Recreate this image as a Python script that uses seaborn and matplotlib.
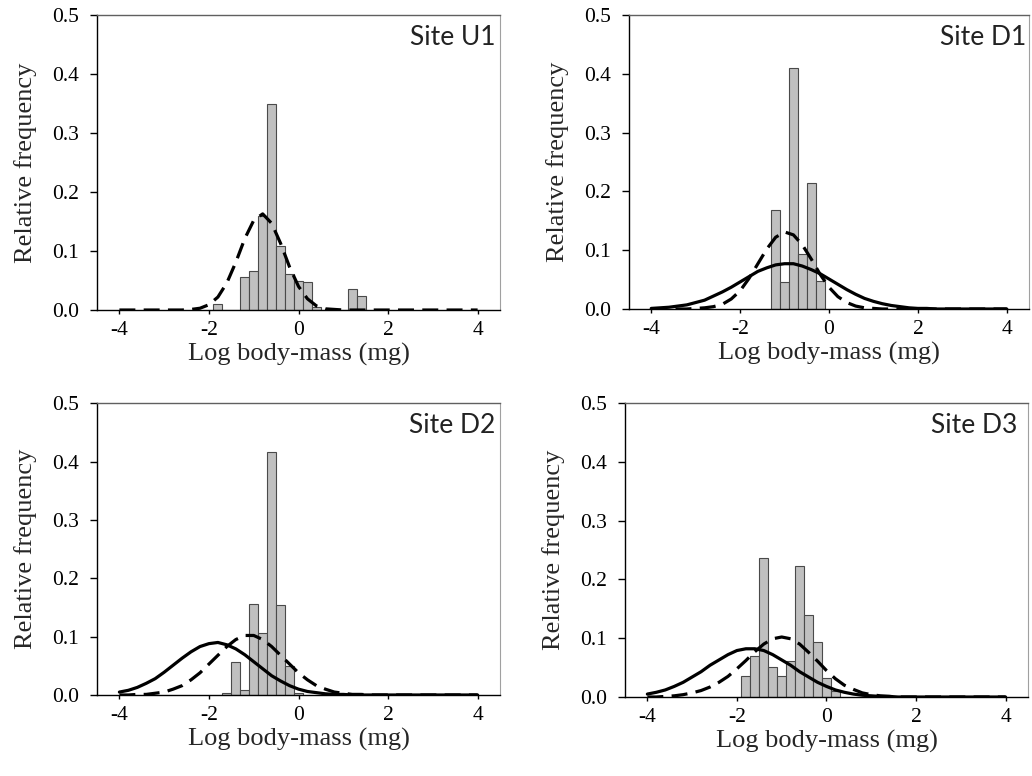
import numpy as np
import pandas as pd
import seaborn as sns
import matplotlib.pyplot as plt

# bin centres (log body-mass, mg) and relative frequencies per site
u1_bins = [-1.8, -1.2, -1.0, -0.8, -0.6, -0.4, -0.2, 0.0, 0.2, 0.4, 1.2, 1.4]
u1_freq = [0.010, 0.056, 0.066, 0.160, 0.350, 0.109, 0.061, 0.049, 0.047, 0.005, 0.036, 0.023]

d1_bins = [-1.2, -1.0, -0.8, -0.6, -0.4, -0.2]
d1_freq = [0.168, 0.046, 0.410, 0.093, 0.214, 0.047]

d2_bins = [-1.6, -1.4, -1.2, -1.0, -0.8, -0.6, -0.4, -0.2, 0.0]
d2_freq = [0.003, 0.056, 0.009, 0.156, 0.106, 0.417, 0.154, 0.049, 0.003]

d3_bins = [-1.8, -1.6, -1.4, -1.2, -1.0, -0.8, -0.6, -0.4, -0.2, 0.0, 0.2]
d3_freq = [0.035, 0.070, 0.237, 0.051, 0.036, 0.062, 0.223, 0.139, 0.093, 0.032, 0.011]

curve_x = [-4.0, -3.8, -3.6, -3.4, -3.2, -3.0, -2.8, -2.6, -2.4, -2.2, -2.0,
           -1.8, -1.6, -1.4, -1.2, -1.0, -0.8, -0.6, -0.4, -0.2, 0.0,
           0.2, 0.4, 0.6, 0.8, 1.0, 1.2, 1.4, 1.6, 1.8, 2.0,
           2.2, 2.4, 2.6, 2.8, 3.0, 3.2, 3.4, 3.6, 3.8, 4.0]

u1_dashed = [0, 0, 0, 0, 0, 0, 0, 0.000, 0.001, 0.003, 0.009,
             0.022, 0.046, 0.081, 0.121, 0.152, 0.163, 0.147, 0.113, 0.073, 0.040,
             0.019, 0.007, 0.002, 0.001, 0, 0, 0, 0, 0, 0,
             0, 0, 0, 0, 0, 0, 0, 0, 0, 0]

d1_dashed = [0, 0, 0, 0.000, 0.000, 0.001, 0.002, 0.004, 0.008, 0.017, 0.031,
             0.052, 0.077, 0.102, 0.122, 0.131, 0.126, 0.109, 0.085, 0.059, 0.037,
             0.021, 0.011, 0.005, 0.002, 0.001, 0, 0, 0, 0, 0,
             0, 0, 0, 0, 0, 0, 0, 0, 0, 0]
d1_solid = [0.001, 0.002, 0.003, 0.005, 0.007, 0.011, 0.015, 0.022, 0.029, 0.037, 0.046,
            0.055, 0.064, 0.070, 0.075, 0.077, 0.077, 0.073, 0.067, 0.060, 0.051,
            0.042, 0.033, 0.025, 0.018, 0.013, 0.009, 0.006, 0.004, 0.002, 0.001,
            0.001, 0, 0, 0, 0, 0, 0, 0, 0, 0]

d2_dashed = [0.000, 0.000, 0.001, 0.001, 0.003, 0.005, 0.010, 0.016, 0.026, 0.038, 0.053,
             0.068, 0.083, 0.095, 0.102, 0.102, 0.095, 0.083, 0.068, 0.053, 0.038,
             0.026, 0.016, 0.010, 0.005, 0.003, 0.001, 0.001, 0, 0, 0,
             0, 0, 0, 0, 0, 0, 0, 0, 0, 0]
d2_solid = [0.005, 0.008, 0.013, 0.020, 0.028, 0.039, 0.051, 0.063, 0.074, 0.083, 0.088,
            0.090, 0.086, 0.079, 0.069, 0.057, 0.045, 0.033, 0.024, 0.016, 0.010,
            0.006, 0.004, 0.002, 0.001, 0.001, 0, 0, 0, 0, 0,
            0, 0, 0, 0, 0, 0, 0, 0, 0, 0]

d3_dashed = [0.000, 0.000, 0.001, 0.002, 0.004, 0.007, 0.011, 0.017, 0.025, 0.035, 0.048,
             0.062, 0.077, 0.090, 0.099, 0.102, 0.099, 0.090, 0.076, 0.061, 0.045,
             0.031, 0.020, 0.013, 0.007, 0.004, 0.002, 0.001, 0, 0, 0,
             0, 0, 0, 0, 0, 0, 0, 0, 0, 0]
d3_solid = [0.005, 0.008, 0.012, 0.018, 0.025, 0.034, 0.043, 0.054, 0.063, 0.072, 0.079,
            0.082, 0.082, 0.079, 0.072, 0.063, 0.054, 0.043, 0.034, 0.025, 0.018,
            0.012, 0.008, 0.005, 0.003, 0.002, 0.001, 0.001, 0, 0, 0,
            0, 0, 0, 0, 0, 0, 0, 0, 0, 0]

x_ticks = [-4, -2, 0, 2, 4]
y_ticks = [0.0, 0.1, 0.2, 0.3, 0.4, 0.5]

panels = [
    ("Site U1", u1_bins, u1_freq, None, u1_dashed, [0.094, 0.6005, 0.3905, 0.380], 0.988),
    ("Site D1", d1_bins, d1_freq, d1_solid, d1_dashed, [0.6095, 0.6018, 0.3876, 0.379], 0.992),
    ("Site D2", d2_bins, d2_freq, d2_solid, d2_dashed, [0.094, 0.1044, 0.3905, 0.376], 0.988),
    ("Site D3", d3_bins, d3_freq, d3_solid, d3_dashed, [0.6056, 0.1018, 0.3905, 0.379], 0.973),
]

sns.set_style("ticks")
plt.rcParams["font.family"] = ["Liberation Serif", "DejaVu Serif"]
plt.rcParams["axes.unicode_minus"] = False

fig = plt.figure(figsize=(10.32, 7.76), dpi=100)

for title, bins, freq, solid, dashed, rect, tx in panels:
    ax = fig.add_axes(rect)
    df = pd.DataFrame({"mass": bins, "freq": freq})
    sns.histplot(data=df, x="mass", weights="freq", binwidth=0.2,
                 binrange=(min(bins) - 0.1, max(bins) + 0.1),
                 color="#c0c0c0", edgecolor="#4a4a4a", linewidth=0.8,
                 alpha=1, ax=ax)

    if solid is not None:
        sns.lineplot(x=curve_x, y=solid, color="black", linewidth=2.3, ax=ax)
    sns.lineplot(x=curve_x, y=dashed, color="black", linewidth=2.3, ax=ax)
    ax.lines[-1].set_dashes((5, 2.6))

    ax.set_xlim(-4.5, 4.5)
    ax.set_ylim(0, 0.5)
    ax.set_xticks(x_ticks)
    ax.set_xticklabels([str(t) for t in x_ticks], fontsize=15.5)
    ax.set_yticks(y_ticks)
    ax.set_yticklabels([f"{t:.1f}" for t in y_ticks], fontsize=15.5)
    ax.tick_params(axis="both", direction="out", colors="black")
    ax.tick_params(axis="x", length=3, width=1, pad=5)
    ax.tick_params(axis="y", length=5, width=1, pad=8)

    ax.set_xlabel("Log body-mass (mg)", fontsize=19, labelpad=2)
    ax.set_ylabel("Relative frequency", fontsize=19, labelpad=11)

    for side in ["left", "bottom"]:
        ax.spines[side].set_color("black")
        ax.spines[side].set_linewidth(1.0)
    ax.spines["top"].set_color("#606060")
    ax.spines["top"].set_linewidth(1.0)
    ax.spines["right"].set_color("#a0a0a0")
    ax.spines["right"].set_linewidth(0.8)

    ax.text(tx, 0.966, title, transform=ax.transAxes, ha="right", va="top",
            fontsize=19, family=["Lato", "DejaVu Sans"], color="#222222")

fig.savefig("out.png", dpi=100)
